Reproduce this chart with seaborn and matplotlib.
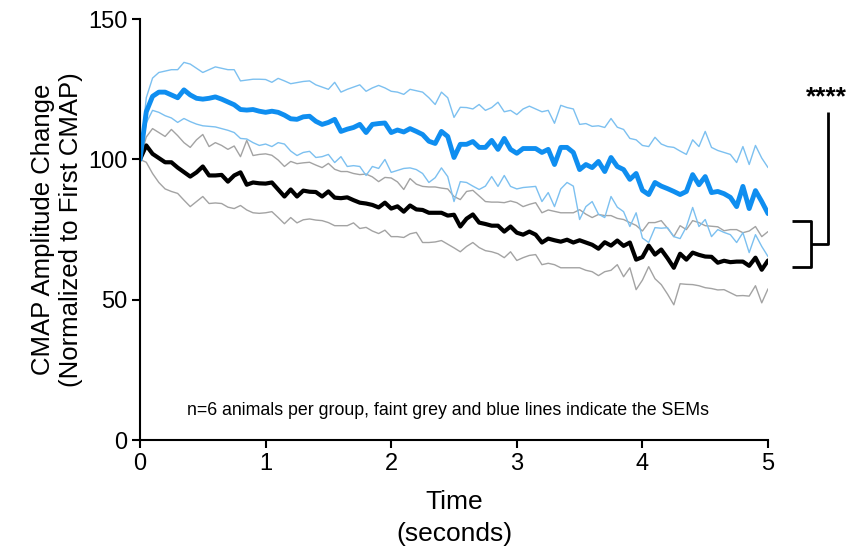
import matplotlib
matplotlib.use('Agg')
import matplotlib.pyplot as plt
import seaborn as sns
import pandas as pd
import numpy as np

# time axis (seconds), one sample every 50 ms
time_s = [round(i * 0.05, 2) for i in range(101)]

blue_mean = [100, 117, 122.5, 124, 124, 123, 122, 124.8, 123, 121.8,
             121.5, 121.8, 122.3, 121.5, 120.5, 119.5, 117.8, 117.6, 117.8, 117.2,
             116.8, 117.2, 116.8, 115.8, 114.5, 114.3, 115.2, 115.4, 113.6, 112.5,
             113.2, 114.3, 110, 110.8, 111.4, 112.5, 109.6, 112.5, 112.8, 113,
             109.6, 110.5, 109.8, 111, 110, 108.9, 106.5, 105.7, 110, 108.2,
             100.7, 105.4, 105.4, 106.4, 104.3, 104.3, 106.8, 103.6, 107.5, 103.6,
             102.2, 103.9, 103.9, 103.9, 102.5, 103.6, 98.2, 104.3, 104.3, 102.5,
             96.4, 98.2, 97.1, 99.3, 95.7, 100.7, 97.5, 96.4, 92.9, 95,
             89, 87.5, 91.8, 90.5, 89.6, 88.6, 87.5, 88.6, 94.6, 91,
             93.9, 88.2, 88.6, 87.8, 86.5, 83.2, 90.4, 82.5, 88.9, 85,
             80.7]

blue_upper = [100, 122, 129, 131, 131.5, 132, 132, 134.6, 134, 132.5,
              131, 132, 133, 132.5, 132, 132, 128, 128.3, 128.6, 128.6,
              128.5, 127.5, 128.9, 128, 127, 127.4, 127.8, 128, 126.6, 125.8,
              125, 127.5, 124, 125, 125.8, 126.6, 124.3, 125.5, 126.4, 125.5,
              124.3, 124, 123.2, 125, 124.5, 124, 122, 119.6, 124, 122,
              115, 118.6, 118.5, 118, 119.6, 117.5, 118.5, 120.4, 117, 117.5,
              116, 118, 119, 118, 117, 117.5, 112.9, 119.3, 118.5, 118,
              112.5, 112.8, 111.8, 112, 111.4, 114.6, 111.5, 110.7, 107.5, 107,
              105, 104.6, 107.9, 105.5, 104.6, 104.3, 103, 101.8, 107, 104.6,
              110, 104.3, 103.2, 102.5, 101.8, 98.9, 104.6, 98.2, 105, 100.5,
              97.1]

blue_lower = [100, 113, 117.5, 116.8, 115.6, 114.8, 113.2, 114.6, 113.5, 112.6,
              112, 111.8, 111.6, 111, 110.4, 109.6, 107.5, 107.3, 106, 105,
              105.5, 104.6, 106, 105.5, 103, 101.4, 102.5, 102.9, 100.7, 101,
              101.8, 98.9, 101, 97.5, 97.8, 97.5, 94.3, 97.5, 96.8, 100,
              95.4, 96.1, 96.8, 97, 96.4, 95, 91.8, 93.5, 97, 93.9,
              85, 92.1, 91.8, 90.5, 89.3, 90.5, 93.9, 90.4, 94.3, 90.4,
              89.5, 90, 90.2, 90.4, 85, 88.2, 83.2, 89.5, 91.8, 90.5,
              78.6, 83.2, 85, 80.5, 79.3, 86.8, 83, 81.4, 76.1, 81,
              72, 70.4, 75.7, 75.5, 75.7, 72.5, 71.8, 76, 82.9, 76.1,
              78.6, 72.5, 75, 74, 73.2, 70.4, 73.9, 66.8, 73.2, 69,
              65.4]

black_mean = [100, 105, 102, 100.5, 99, 99, 97.1, 95.5, 93.9, 95.4,
              97.5, 94.3, 94.3, 94.5, 92.1, 94.3, 95.4, 91, 91.8, 91.5,
              91.4, 91.8, 89.3, 86.8, 89.3, 86.8, 88.9, 88.5, 88.4, 86.8,
              88.6, 86.4, 86.2, 86.5, 85.5, 84.6, 84.3, 83.8, 82.9, 84.6,
              82.5, 83.3, 81.4, 83.6, 82.2, 82, 81, 81, 81, 80,
              80.3, 76.1, 78.9, 80.4, 77.5, 77, 76.4, 76.4, 74.3, 76.1,
              73.9, 73.2, 74.3, 73.2, 70.4, 71.8, 71.2, 70.7, 71.4, 70.4,
              71.2, 70.4, 69.6, 68.2, 70.5, 69.3, 71.1, 69.2, 70.4, 64.3,
              65.2, 69.3, 66.1, 67.9, 64.8, 61.4, 66.4, 64.3, 66.8, 66,
              65.4, 65.3, 63.2, 63.9, 63.4, 63.6, 63.6, 62.1, 65, 60.7,
              64]

grey_upper = [100, 108, 111, 109.6, 108.2, 110.7, 108.5, 106, 104.3, 107,
              108.9, 104.6, 106, 105, 103.6, 104.8, 101, 106.8, 101.4, 101.8,
              102, 101.5, 99.8, 97.5, 99.3, 98.5, 98.8, 99, 98, 97.1,
              98.6, 96.5, 95.7, 95.7, 95, 94.6, 94.8, 93.8, 92.1, 93.6,
              93.4, 92, 89.3, 93.2, 91.2, 90.4, 90.2, 90.2, 89.8, 89.5,
              86.8, 85.7, 88.6, 89, 87, 85, 84.8, 84.8, 84.6, 85.2,
              84.6, 83.2, 84, 84.6, 81, 82, 81.5, 81, 81, 81,
              82.1, 80.5, 79.3, 80.4, 80, 80, 79, 78.6, 77.5, 76.5,
              74.5, 77.5, 77.5, 78.2, 75.5, 72.5, 76.4, 75, 78.2, 77.5,
              76.4, 76.2, 76, 74.6, 75, 75, 73.9, 74.5, 76.1, 72.5,
              74.3]

grey_lower = [100, 99, 95, 91.8, 89.5, 88.6, 87.9, 85.5, 83.2, 85,
              86.8, 84.3, 84.5, 84.3, 83, 82.5, 83.6, 82, 81, 80.8,
              81, 81.4, 79.3, 77.1, 79.3, 77.4, 78.5, 78.8, 78.4, 78.2,
              77.5, 76.4, 76.4, 76.4, 77.4, 75.4, 75.8, 74.5, 73.6, 74.8,
              72.5, 72.5, 72.2, 73.5, 74, 70.4, 70.4, 70.6, 71.1, 69.8,
              68.5, 67.1, 69, 70.4, 68.6, 67.5, 67.1, 66.4, 65, 67.1,
              64, 65, 65.8, 66.1, 62.5, 63, 62.5, 61.4, 61.4, 61.4,
              61.4, 60.5, 60, 58.6, 60, 60.5, 62.5, 58.2, 61.4, 53.6,
              57, 61.8, 57.5, 55.4, 52, 48.2, 55.7, 55.5, 55.4, 55,
              54.3, 54, 53.5, 53.6, 52.5, 51.4, 51.5, 51.3, 55, 48.9,
              53.9]

x_ticks = [0, 1, 2, 3, 4, 5]
y_ticks = [0, 50, 100, 150]

df = pd.DataFrame({'t': time_s,
                   'blue_mean': blue_mean, 'blue_upper': blue_upper, 'blue_lower': blue_lower,
                   'black_mean': black_mean, 'grey_upper': grey_upper, 'grey_lower': grey_lower})

sns.set_style('ticks')
plt.rcParams['font.family'] = ['Liberation Sans', 'DejaVu Sans']
plt.rcParams.update({'axes.linewidth': 1.5, 'xtick.major.width': 1.5, 'ytick.major.width': 1.5,
                     'xtick.major.size': 6, 'ytick.major.size': 6,
                     'xtick.color': 'black', 'ytick.color': 'black', 'axes.edgecolor': 'black',
                     'axes.labelcolor': 'black', 'text.color': 'black'})

fig = plt.figure(figsize=(8.51, 5.48), dpi=100)
ax = fig.add_axes([0.1645, 0.197, 0.738, 0.768])

BLUE = '#0f8ef0'
BLUE_SEM = '#7cc0f0'
GREY_SEM = '#a3a3a3'

sns.lineplot(data=df, x='t', y='grey_upper', color=GREY_SEM, lw=1, ax=ax)
sns.lineplot(data=df, x='t', y='grey_lower', color=GREY_SEM, lw=1, ax=ax)
sns.lineplot(data=df, x='t', y='blue_upper', color=BLUE_SEM, lw=1, ax=ax)
sns.lineplot(data=df, x='t', y='blue_lower', color=BLUE_SEM, lw=1, ax=ax)
sns.lineplot(data=df, x='t', y='black_mean', color='black', lw=3, ax=ax)
sns.lineplot(data=df, x='t', y='blue_mean', color=BLUE, lw=3.5, ax=ax)

ax.set_xlim(0, 5)
ax.set_ylim(0, 150)
ax.set_xticks(x_ticks)
ax.set_yticks(y_ticks)
ax.tick_params(labelsize=17, pad=3)
sns.despine(ax=ax)
for sp in ax.spines.values():
    sp.set_clip_on(False)

ax.set_xlabel('Time\n(seconds)', fontsize=19, labelpad=11, linespacing=1.45)
ax.set_ylabel('CMAP Amplitude Change\n(Normalized to First CMAP)', fontsize=18.5, labelpad=4)

ax.text(2.45, 10.5, 'n=6 animals per group, faint grey and blue lines indicate the SEMs',
        fontsize=12.8, ha='center', va='center')

# significance bracket outside the axes
kw = dict(color='black', lw=2, clip_on=False, solid_capstyle='butt')
ax.plot([5.19, 5.34, 5.34, 5.19], [78, 78, 61.8, 61.8], **kw)
ax.plot([5.34, 5.48, 5.48], [70, 70, 117], **kw)
ax.text(5.468, 122, '****', fontsize=19, ha='center', va='center', fontweight='bold')

fig.savefig('out.png', dpi=100)
